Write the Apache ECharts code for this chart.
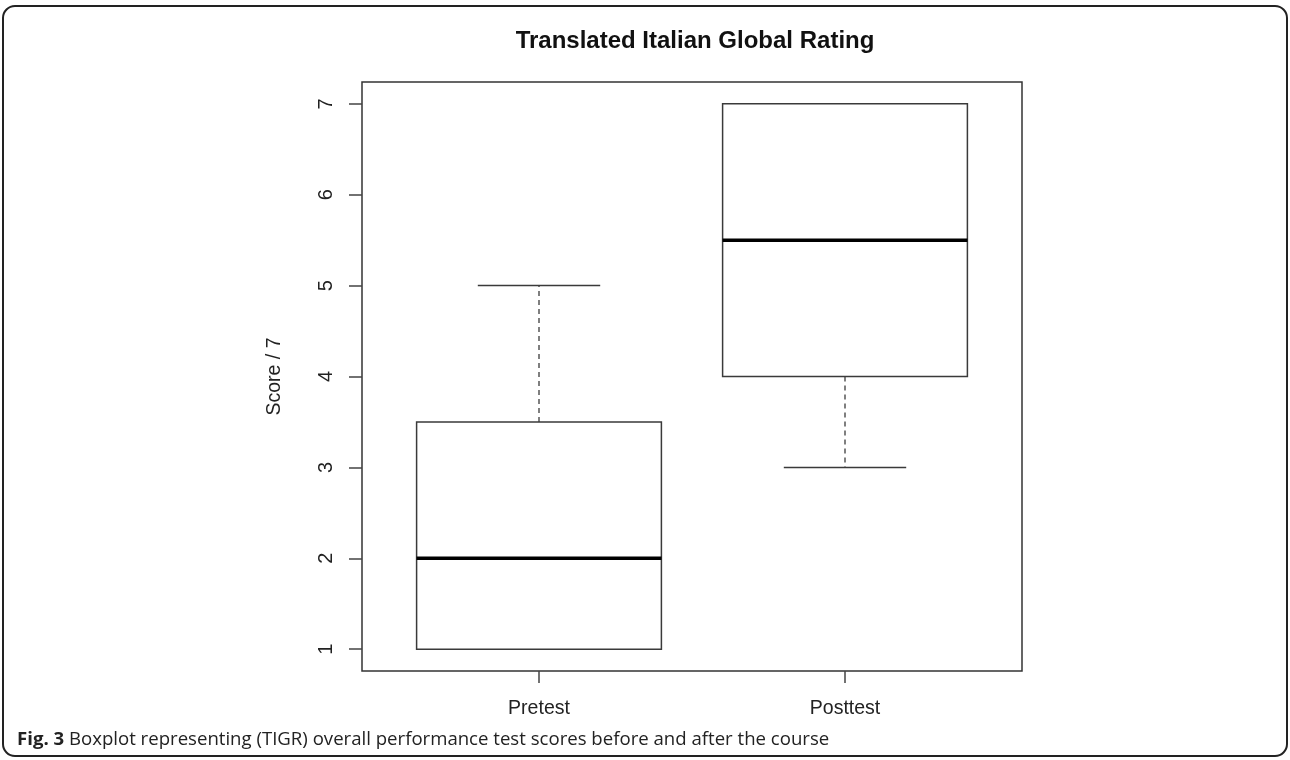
<!DOCTYPE html>
<html>
<head>
<meta charset="utf-8">
<script src="https://cdn.jsdelivr.net/npm/echarts@6/dist/echarts.min.js"></script>
<style>
html,body{margin:0;padding:0;background:#fff;}
#chart{width:1290px;height:760px;}
</style>
</head>
<body>
<div id="chart"></div>
<script>
// ---- data ----
const categories = ['Pretest', 'Posttest'];
// [min, Q1, median, Q3, max]
const pretest  = [1, 1, 2, 3.5, 5];
const posttest = [3, 4, 5.5, 7, 7];
const yTicks = [1, 2, 3, 4, 5, 6, 7];
const titleText = 'Translated Italian Global Rating';
const yName = 'Score / 7';
const captionBold = 'Fig. 3';
const captionText = ' Boxplot representing (TIGR) overall performance test scores before and after the course';

const boxData = [pretest, posttest].map((s, i) => [i].concat(s));
const yMin = 0.76, yMax = 7.24;

const chart = echarts.init(document.getElementById('chart'));
const lineCol = '#3a3a3a';

function renderBox(params, api) {
  const xi = api.value(0);
  const vmin = api.value(1), q1 = api.value(2), med = api.value(3), q3 = api.value(4), vmax = api.value(5);
  const band = api.size([1, 0])[0];
  const boxW = band * 0.8, capW = band * 0.4;
  const pMin = api.coord([xi, vmin]);
  const pQ1 = api.coord([xi, q1]);
  const pMed = api.coord([xi, med]);
  const pQ3 = api.coord([xi, q3]);
  const pMax = api.coord([xi, vmax]);
  const cx = pMed[0];
  const solid = {stroke: lineCol, lineWidth: 1.5, fill: null};
  const dashed = {stroke: '#555', lineWidth: 1.5, lineDash: [5, 4], fill: null};
  const children = [];
  if (pQ1[1] !== pMin[1]) children.push({type: 'line', shape: {x1: cx, y1: pQ1[1], x2: cx, y2: pMin[1]}, style: dashed});
  if (pQ3[1] !== pMax[1]) children.push({type: 'line', shape: {x1: cx, y1: pQ3[1], x2: cx, y2: pMax[1]}, style: dashed});
  children.push({type: 'line', shape: {x1: cx - capW / 2, y1: pMin[1], x2: cx + capW / 2, y2: pMin[1]}, style: solid});
  children.push({type: 'line', shape: {x1: cx - capW / 2, y1: pMax[1], x2: cx + capW / 2, y2: pMax[1]}, style: solid});
  children.push({type: 'rect', shape: {x: cx - boxW / 2, y: pQ3[1], width: boxW, height: pQ1[1] - pQ3[1]}, style: {stroke: lineCol, lineWidth: 1.5, fill: '#fff'}});
  children.push({type: 'line', shape: {x1: cx - boxW / 2, y1: pMed[1], x2: cx + boxW / 2, y2: pMed[1]}, style: {stroke: '#000', lineWidth: 3.5}});
  return {type: 'group', children: children};
}

const option = {
  backgroundColor: '#fff',
  animation: false,
  title: [
    {
      text: titleText,
      left: 690, top: 24, textAlign: 'center',
      textStyle: {fontFamily: 'Liberation Sans', fontWeight: 'bold', fontSize: 24, color: '#111'}
    },
    {
      text: '{b|' + captionBold + '}{r|' + captionText + '}',
      left: 12, top: 725,
      textStyle: {
        fontWeight: 'normal',
        rich: {
          b: {fontFamily: 'Open Sans', fontWeight: 'bold', fontSize: 18.6, color: '#222'},
          r: {fontFamily: 'Open Sans', fontWeight: 'normal', fontSize: 18.6, color: '#222'}
        }
      }
    }
  ],
  graphic: [
    {
      type: 'rect', silent: true,
      shape: {x: 3, y: 6, width: 1284, height: 750, r: 12},
      style: {stroke: '#222', lineWidth: 2, fill: null}
    }
  ],
  grid: [
    {left: 386, right: 292, top: 82, bottom: 89, containLabel: false},
    {left: 362, right: 268, top: 82, bottom: 89, containLabel: false, show: true, borderColor: '#333', borderWidth: 1.5, backgroundColor: 'transparent'}
  ],
  xAxis: [
    {
      type: 'category', gridIndex: 0, data: categories, boundaryGap: true,
      axisLine: {show: false},
      axisTick: {show: true, alignWithLabel: true, length: 12, lineStyle: {color: '#444', width: 1.5}},
      axisLabel: {margin: 28, fontFamily: 'Liberation Sans', fontSize: 19.5, color: '#222'},
      splitLine: {show: false}
    },
    {type: 'value', gridIndex: 1, show: false, min: 0, max: 1}
  ],
  yAxis: [
    {type: 'value', gridIndex: 0, show: false, min: yMin, max: yMax},
    {
      type: 'value', gridIndex: 1, min: yMin, max: yMax,
      name: yName, nameLocation: 'middle', nameRotate: 90, nameGap: 77,
      nameTextStyle: {fontFamily: 'Liberation Sans', fontSize: 19.5, color: '#222'},
      axisLine: {show: false},
      axisTick: {show: true, length: 13, customValues: yTicks, lineStyle: {color: '#444', width: 1.5}},
      axisLabel: {rotate: 90, margin: 26, customValues: yTicks, fontFamily: 'Liberation Sans', fontSize: 20, color: '#222'},
      splitLine: {show: false}
    }
  ],
  series: [
    {
      type: 'custom', xAxisIndex: 0, yAxisIndex: 0,
      renderItem: renderBox,
      encode: {x: 0, y: [1, 2, 3, 4, 5]},
      data: boxData
    }
  ]
};
chart.setOption(option);
</script>
</body>
</html>
